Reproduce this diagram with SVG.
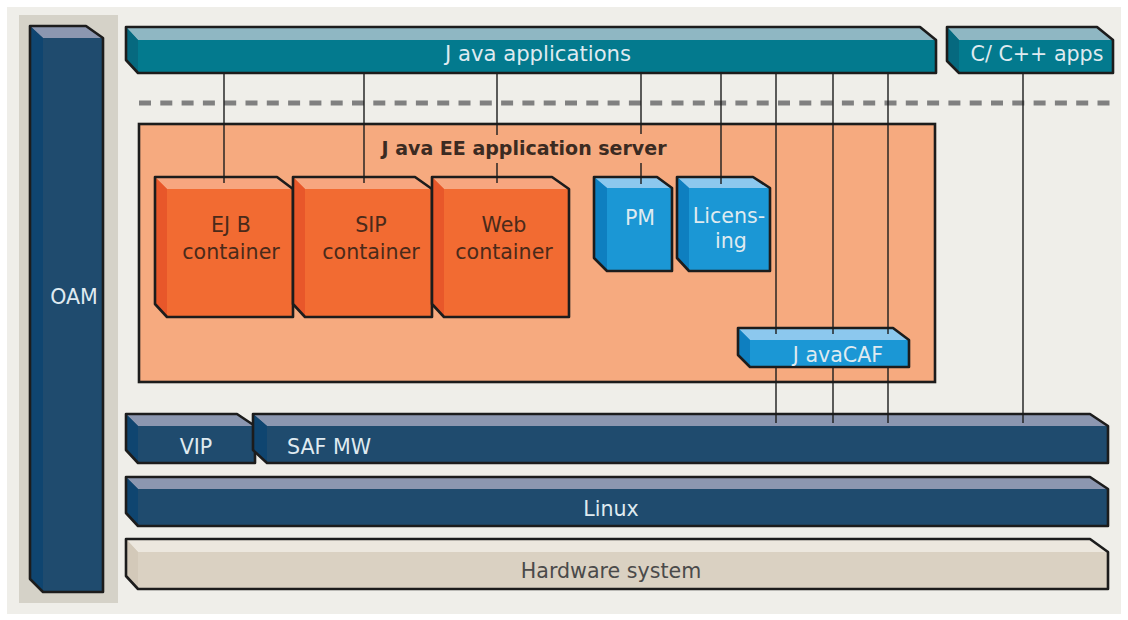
<svg xmlns="http://www.w3.org/2000/svg" width="1128" height="620" viewBox="0 0 1128 620">
<style>
.ol{fill:none;stroke:#1c1c1c;stroke-width:2.6;stroke-linejoin:round}
.t{font-family:"DejaVu Sans",sans-serif;font-size:20.6px;text-anchor:middle}
.lt{fill:#dfeaf0}
.dk{fill:#4a2a1a}
.nf{fill:#1f4b6e}.nt{fill:#8c97b0}.nl{fill:#0f4570}
.tf{fill:#037a8e}.tt{fill:#8fb7c3}.tl{fill:#06697f}
.of{fill:#f26b32}.ot{fill:#f7a67f}.oL{fill:#e8572a}
.bf{fill:#1b97d5}.bt{fill:#8cc8ee}.bl{fill:#0e7fc0}
.hf{fill:#dad1c2}.ht{fill:#ece7de}.hl{fill:#d3c9b9}
.cn{stroke:#1c1c1c;stroke-width:1.4;fill:none}
</style>
<rect x="0" y="0" width="1128" height="620" fill="#ffffff"/>
<rect x="7" y="7" width="1114" height="607" fill="#efeee9"/>
<rect x="19" y="15" width="99" height="588" fill="#d5d2c8"/>
<line x1="139" y1="103" x2="1116" y2="103" stroke="#808080" stroke-width="5" stroke-dasharray="12 9.3"/>

<g id="oam">
<polygon class="nf" points="30,26 86,26 103,38 103,592 43,592 30,579"/>
<polygon class="nt" points="30,26 86,26 103,38 43,38"/>
<polygon class="nl" points="30,26 43,38 43,592 30,579"/>
<polygon class="ol" points="30,26 86,26 103,38 103,592 43,592 30,579"/>
<text class="t lt" x="74" y="304">OAM</text>
</g>

<g id="java-apps">
<polygon class="tf" points="126,27 920,27 936,40 936,73 138,73 126,60"/>
<polygon class="tt" points="126,27 920,27 936,40 138,40"/>
<polygon class="tl" points="126,27 138,40 138,73 126,60"/>
<polygon class="ol" points="126,27 920,27 936,40 936,73 138,73 126,60"/>
<text class="t lt" x="538" y="61" style="font-size:21.2px">J ava applications</text>
</g>

<g id="c-apps">
<polygon class="tf" points="947,27 1097,27 1113,40 1113,73 959,73 947,61"/>
<polygon class="tt" points="947,27 1097,27 1113,40 959,40"/>
<polygon class="tl" points="947,27 959,40 959,73 947,61"/>
<polygon class="ol" points="947,27 1097,27 1113,40 1113,73 959,73 947,61"/>
<text class="t lt" x="1037" y="61">C/ C++ apps</text>
</g>

<g id="javaee">
<rect x="139" y="124" width="796" height="258" fill="#f6aa7f" stroke="#1c1c1c" stroke-width="2.6"/>
<text class="t" x="524" y="155" style="font-weight:bold;font-size:19px;fill:#3b2b22">J ava EE application server</text>
</g>

<g id="ejb">
<polygon class="of" points="155,177 277,177 293,189 293,317 167,317 155,304"/>
<polygon class="ot" points="155,177 277,177 293,189 167,189"/>
<polygon class="oL" points="155,177 167,189 167,317 155,304"/>
<polygon class="ol" points="155,177 277,177 293,189 293,317 167,317 155,304"/>
<text class="t dk" x="231" y="232">EJ B</text>
<text class="t dk" x="231" y="259">container</text>
</g>

<g id="sip">
<polygon class="of" points="293,177 415,177 432,189 432,317 305,317 293,304"/>
<polygon class="ot" points="293,177 415,177 432,189 305,189"/>
<polygon class="oL" points="293,177 305,189 305,317 293,304"/>
<polygon class="ol" points="293,177 415,177 432,189 432,317 305,317 293,304"/>
<text class="t dk" x="371" y="232">SIP</text>
<text class="t dk" x="371" y="259">container</text>
</g>

<g id="web">
<polygon class="of" points="432,177 552,177 569,189 569,317 444,317 432,304"/>
<polygon class="ot" points="432,177 552,177 569,189 444,189"/>
<polygon class="oL" points="432,177 444,189 444,317 432,304"/>
<polygon class="ol" points="432,177 552,177 569,189 569,317 444,317 432,304"/>
<text class="t dk" x="504" y="232">Web</text>
<text class="t dk" x="504" y="259">container</text>
</g>

<g id="pm">
<polygon class="bf" points="594,177 657,177 672,188 672,271 607,271 594,258"/>
<polygon class="bt" points="594,177 657,177 672,188 607,188"/>
<polygon class="bl" points="594,177 607,188 607,271 594,258"/>
<polygon class="ol" points="594,177 657,177 672,188 672,271 607,271 594,258"/>
<text class="t lt" x="640" y="225">PM</text>
</g>

<g id="licensing">
<polygon class="bf" points="677,177 753,177 770,188 770,271 689,271 677,258"/>
<polygon class="bt" points="677,177 753,177 770,188 689,188"/>
<polygon class="bl" points="677,177 689,188 689,271 677,258"/>
<polygon class="ol" points="677,177 753,177 770,188 770,271 689,271 677,258"/>
<text class="t lt" x="729" y="223">Licens-</text>
<text class="t lt" x="731" y="248">ing</text>
</g>

<g id="javacaf">
<polygon class="bf" points="738,328 893,328 909,340 909,367 750,367 738,355"/>
<polygon class="bt" points="738,328 893,328 909,340 750,340"/>
<polygon class="bl" points="738,328 750,340 750,367 738,355"/>
<polygon class="ol" points="738,328 893,328 909,340 909,367 750,367 738,355"/>
<text class="t lt" x="838" y="362">J avaCAF</text>
</g>

<g id="vip">
<polygon class="nf" points="126,414 237,414 255,426 255,463 138,463 126,450"/>
<polygon class="nt" points="126,414 237,414 255,426 138,426"/>
<polygon class="nl" points="126,414 138,426 138,463 126,450"/>
<polygon class="ol" points="126,414 237,414 255,426 255,463 138,463 126,450"/>
<text class="t lt" x="196" y="454">VIP</text>
</g>

<g id="safmw">
<polygon class="nf" points="253,414 1090,414 1108,426 1108,463 267,463 253,450"/>
<polygon class="nt" points="253,414 1090,414 1108,426 267,426"/>
<polygon class="nl" points="253,414 267,426 267,463 253,450"/>
<polygon class="ol" points="253,414 1090,414 1108,426 1108,463 267,463 253,450"/>
<text class="t lt" x="287" y="454" style="text-anchor:start">SAF MW</text>
</g>

<g id="linux">
<polygon class="nf" points="126,477 1090,477 1108,489 1108,526 138,526 126,513"/>
<polygon class="nt" points="126,477 1090,477 1108,489 138,489"/>
<polygon class="nl" points="126,477 138,489 138,526 126,513"/>
<polygon class="ol" points="126,477 1090,477 1108,489 1108,526 138,526 126,513"/>
<text class="t lt" x="611" y="516">Linux</text>
</g>

<g id="hardware">
<polygon class="hf" points="126,539 1090,539 1108,552 1108,589 138,589 126,576"/>
<polygon class="ht" points="126,539 1090,539 1108,552 138,552"/>
<polygon class="hl" points="126,539 138,552 138,589 126,576"/>
<polygon class="ol" points="126,539 1090,539 1108,552 1108,589 138,589 126,576"/>
<text class="t" x="611" y="578" style="fill:#4a4a4a">Hardware system</text>
</g>

<g id="connectors">
<line class="cn" x1="224" y1="74" x2="224" y2="183"/>
<line class="cn" x1="364" y1="74" x2="364" y2="183"/>
<line class="cn" x1="497" y1="74" x2="497" y2="135"/>
<line class="cn" x1="497" y1="163" x2="497" y2="183"/>
<line class="cn" x1="641" y1="74" x2="641" y2="134"/>
<line class="cn" x1="641" y1="163" x2="641" y2="184"/>
<line class="cn" x1="721" y1="74" x2="721" y2="184"/>
<line class="cn" x1="776" y1="74" x2="776" y2="334"/>
<line class="cn" x1="833" y1="74" x2="833" y2="334"/>
<line class="cn" x1="888" y1="74" x2="888" y2="334"/>
<line class="cn" x1="776" y1="368" x2="776" y2="423"/>
<line class="cn" x1="833" y1="368" x2="833" y2="423"/>
<line class="cn" x1="888" y1="368" x2="888" y2="423"/>
<line class="cn" x1="1023" y1="74" x2="1023" y2="423"/>
</g>
</svg>
